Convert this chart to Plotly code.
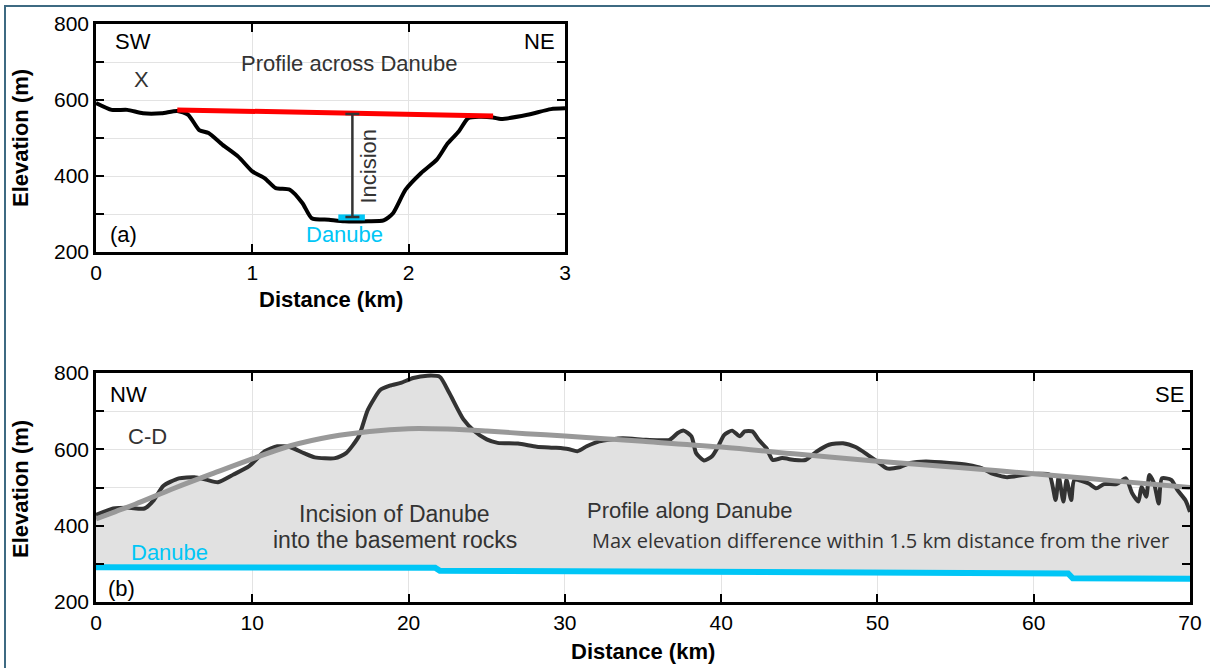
import plotly.graph_objects as go

# ---------------- data ----------------
# (a) profile across Danube
top_dist = [0, 0.1, 0.2, 0.3, 0.42, 0.52, 0.59, 0.66, 0.72, 0.81, 0.91, 1.0, 1.08, 1.15, 1.24,
            1.32, 1.38, 1.49, 1.59, 1.74, 1.84, 1.90, 1.98, 2.08, 2.18, 2.25, 2.32, 2.38, 2.45,
            2.54, 2.59, 2.76, 2.91, 3.0]
top_elev = [592, 574, 574, 565, 565, 571, 561, 521, 513, 482, 451, 412, 394, 368, 364,
            329, 289, 285, 281, 281, 283, 302, 364, 408, 443, 486, 517, 552, 556,
            554, 550, 561, 576, 578]
red_dist = [0.52, 2.54]
red_elev = [574, 558]
incision_x = [1.64]
incision_mid = [427.5]
incision_half = [135.5]
river_a_dist = [1.55, 1.72]
river_a_elev = [291, 291]

# (b) profile along Danube
bot_dist = [0, 1.1, 2.1, 3.1, 3.7, 4.3, 5.3, 6.3, 7.1, 7.8, 8.8, 9.8, 10.8, 11.6, 12.4,
            13.3, 14.0, 15.3, 16.0, 16.8, 17.4, 18.2, 18.8, 19.5, 20.3, 21.2, 22.0, 22.6, 23.5, 24.2,
            25.0, 25.7, 27.0, 28.2, 29.4, 30.2, 30.8, 31.4, 32.2, 33.7, 35.2, 36.7, 37.2, 37.6, 38.1,
            38.4, 38.9, 39.4, 39.8, 40.2, 40.7, 41.2, 41.5, 42.0, 42.4, 42.9, 43.3, 43.9, 44.7, 45.4,
            46.1, 46.9, 47.8, 48.6, 49.4, 50.0, 50.6, 51.4, 52.1, 53.1, 54.6, 55.8, 56.7, 57.3, 58.3,
            59.3, 60.3, 61.0, 61.4, 61.6, 61.9, 62.1, 62.4, 62.6, 63.5, 64.0, 64.5, 65.3, 65.9, 66.3,
            66.7, 66.9, 67.2, 67.4, 67.7, 68.0, 68.2, 68.8, 69.2, 69.7, 70.0]
bot_elev = [428, 445, 447, 445, 467, 504, 524, 527, 520, 514, 534, 556, 595, 608, 606,
            590, 579, 577, 590, 633, 704, 756, 767, 774, 787, 793, 790, 748, 679, 648,
            626, 617, 615, 607, 604, 601, 595, 608, 621, 629, 625, 625, 642, 649, 634,
            590, 571, 581, 607, 638, 649, 634, 647, 647, 625, 603, 572, 577, 572, 572,
            594, 612, 616, 606, 585, 568, 550, 553, 564, 568, 564, 559, 550, 537, 527,
            533, 536, 534, 467, 529, 463, 520, 467, 520, 511, 498, 509, 509, 524, 485,
            463, 502, 476, 533, 511, 458, 524, 520, 493, 467, 436]
trend_dist = [0, 1.25, 2.5, 5, 7.5, 10, 12.5, 15, 17.5, 20, 22.5, 25, 27.5, 30, 32.5, 35,
              40, 45, 50, 55, 60, 65, 70]
trend_elev = [418, 437, 456, 498, 537, 575, 610, 633, 647, 654, 653, 648, 641, 635, 628, 621,
              606, 587, 569, 553, 536, 518, 500]
river_dist = [0, 10, 21.7, 22.0, 30, 40, 50, 60, 62.2, 62.5, 70]
river_elev = [291, 290, 290, 282, 281, 279, 278, 277, 275, 262, 261]

y_ticks = [200, 300, 400, 500, 600, 700, 800]
y_ticktext = ["200", "", "400", "", "600", "", "800"]
xa_ticks = [0, 1, 2, 3]
xb_ticks = [0, 10, 20, 30, 40, 50, 60, 70]

# ---------------- figure ----------------
W, H = 1210, 668
FONT = "Liberation Sans, Arial, sans-serif"
CYAN = "#00c6f6"

def px(x):
    return x / W

def py(y):
    return (H - y) / H

fig = go.Figure()

# (a)
fig.add_trace(go.Scatter(x=top_dist, y=top_elev, mode="lines", line=dict(color="black", width=4, shape="spline", smoothing=0.6),
                         xaxis="x", yaxis="y", hoverinfo="skip"))
fig.add_trace(go.Scatter(x=red_dist, y=red_elev, mode="lines", line=dict(color="#ff0000", width=5),
                         xaxis="x", yaxis="y", hoverinfo="skip"))
fig.add_trace(go.Scatter(x=river_a_dist, y=river_a_elev, mode="lines", line=dict(color=CYAN, width=6),
                         xaxis="x", yaxis="y", hoverinfo="skip"))
fig.add_trace(go.Scatter(x=incision_x, y=incision_mid, mode="markers", marker=dict(size=1, color="rgba(0,0,0,0)"),
                         error_y=dict(type="data", array=incision_half, symmetric=True, color="#333333",
                                      thickness=2.5, width=7),
                         xaxis="x", yaxis="y", hoverinfo="skip"))

# (b)
fig.add_trace(go.Scatter(x=river_dist, y=river_elev, mode="lines", line=dict(color=CYAN, width=6),
                         xaxis="x2", yaxis="y2", hoverinfo="skip"))
fig.add_trace(go.Scatter(x=bot_dist, y=bot_elev, mode="lines", fill="tonexty", fillcolor="#e1e1e1",
                         line=dict(color="#333333", width=4, shape="spline", smoothing=0.6),
                         xaxis="x2", yaxis="y2", hoverinfo="skip"))
fig.add_trace(go.Scatter(x=trend_dist, y=trend_elev, mode="lines",
                         line=dict(color="#999999", width=5, shape="spline", smoothing=1.0),
                         xaxis="x2", yaxis="y2", hoverinfo="skip"))

axis_common = dict(showline=True, linecolor="black", linewidth=2.5, mirror="allticks", ticks="inside",
                   ticklen=8, tickwidth=2, tickcolor="black", showgrid=True, gridcolor="#e3e3e3",
                   gridwidth=1, zeroline=False, tickfont=dict(family=FONT, size=21, color="black"),
                   fixedrange=True)

fig.update_layout(
    width=W, height=H, margin=dict(l=0, r=0, t=0, b=0, autoexpand=False),
    paper_bgcolor="white", plot_bgcolor="white", showlegend=False,
    xaxis=dict(domain=[px(96), px(565)], range=[0, 3], tickvals=xa_ticks, anchor="y", **axis_common),
    yaxis=dict(domain=[py(252), py(24)], range=[200, 800], tickvals=y_ticks, ticktext=y_ticktext,
               anchor="x", **axis_common),
    xaxis2=dict(domain=[px(96), px(1190)], range=[0, 70], tickvals=xb_ticks, anchor="y2", **axis_common),
    yaxis2=dict(domain=[py(602), py(373)], range=[200, 800], tickvals=y_ticks, ticktext=y_ticktext,
                anchor="x2", **axis_common),
)

ann = []
def A(text, x, y, xref, yref, size=22, color="#333333", bold=False, angle=0, family=FONT, xanchor="center"):
    t = f"<b>{text}</b>" if bold else text
    ann.append(dict(text=t, x=x, y=y, xref=xref, yref=yref, showarrow=False, textangle=angle,
                    xanchor=xanchor, yanchor="middle", font=dict(family=family, size=size, color=color)))

# axis titles
A("Elevation (m)", px(20), py(138), "paper", "paper", size=22, color="black", bold=True, angle=-90)
A("Elevation (m)", px(20), py(489), "paper", "paper", size=22, color="black", bold=True, angle=-90)
A("Distance (km)", px(331), py(299), "paper", "paper", size=22, color="black", bold=True)
A("Distance (km)", px(643), py(651), "paper", "paper", size=22, color="black", bold=True)

# panel (a)
A("SW", 0.237, 754, "x", "y", color="black")
A("NE", 2.84, 754, "x", "y", color="black")
A("X", 0.29, 653, "x", "y")
A("Profile across Danube", 1.62, 695, "x", "y")
A("Incision", 1.74, 425, "x", "y", angle=-90)
A("(a)", 0.176, 245, "x", "y", color="black")
A("Danube", 1.59, 245, "x", "y", color=CYAN)

# panel (b)
A("NW", 2.1, 743, "x2", "y2", color="black")
A("SE", 68.7, 743, "x2", "y2", color="black")
A("C-D", 3.3, 634, "x2", "y2")
A("Danube", 4.7, 330, "x2", "y2", color=CYAN)
A("(b)", 1.6, 235, "x2", "y2", color="black")
A("Incision of Danube", 19.1, 430, "x2", "y2", size=23)
A("into the basement rocks", 19.1, 362, "x2", "y2", size=23)
A("Profile along Danube", 38.0, 439, "x2", "y2")
A("Max elevation difference within 1.5 km distance from the river", 50.2, 361, "x2", "y2",
  size=20, family="Open Sans, sans-serif")

fig.update_layout(annotations=ann)

# frame border (top and left)
fig.add_shape(type="line", xref="paper", yref="paper", x0=px(4), x1=1, y0=py(6), y1=py(6),
              line=dict(color="#3e6a82", width=2))
fig.add_shape(type="line", xref="paper", yref="paper", x0=px(5), x1=px(5), y0=0, y1=py(5),
              line=dict(color="#3e6a82", width=2))

fig.write_html("out.html", config={"displayModeBar": False},
               post_script="document.body.style.margin='0';document.body.style.overflow='hidden';")
